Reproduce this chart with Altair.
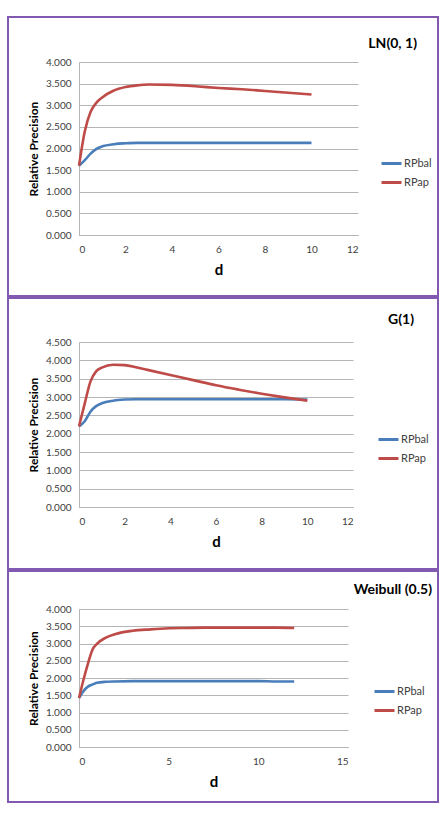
import altair as alt
import pandas as pd

# LN(0, 1)
LN_D = [0, 0.25, 0.5, 0.75, 1, 1.5, 2, 2.5, 3, 4, 5, 6, 7, 8, 9, 10]
LN_RPBAL = [1.60, 1.73, 1.88, 1.99, 2.05, 2.10, 2.12, 2.13, 2.13, 2.13, 2.13, 2.13, 2.13, 2.13, 2.13, 2.13]
LN_RPAP = [1.60, 2.40, 2.85, 3.06, 3.18, 3.34, 3.42, 3.46, 3.48, 3.47, 3.44, 3.40, 3.37, 3.33, 3.29, 3.25]

# G(1)
G_D = [0, 0.25, 0.5, 0.75, 1, 1.5, 2, 2.5, 3, 4, 5, 6, 7, 8, 9, 10]
G_RPBAL = [2.20, 2.34, 2.60, 2.75, 2.83, 2.90, 2.93, 2.94, 2.94, 2.94, 2.94, 2.94, 2.94, 2.94, 2.94, 2.93]
G_RPAP = [2.20, 2.82, 3.42, 3.70, 3.80, 3.88, 3.87, 3.81, 3.74, 3.60, 3.46, 3.32, 3.20, 3.09, 2.99, 2.90]

# Weibull (0.5)
W_D = [0, 0.25, 0.5, 0.75, 1, 1.5, 2, 3, 4, 5, 6, 7, 8, 9, 10, 11, 12]
W_RPBAL = [1.42, 1.62, 1.75, 1.81, 1.86, 1.89, 1.90, 1.91, 1.91, 1.91, 1.91, 1.91, 1.91, 1.91, 1.91, 1.90, 1.90]
W_RPAP = [1.42, 1.95, 2.42, 2.82, 2.99, 3.17, 3.27, 3.37, 3.41, 3.44, 3.45, 3.46, 3.46, 3.46, 3.46, 3.46, 3.45]

SERIES = ["RPbal", "RPap"]
COLORS = ["#4a7ebb", "#be4b48"]
PURPLE = "#8159b0"
FONT = "Lato"

Y_TICKS_4 = [0, 0.5, 1, 1.5, 2, 2.5, 3, 3.5, 4]
Y_TICKS_45 = [0, 0.5, 1, 1.5, 2, 2.5, 3, 3.5, 4, 4.5]
X_TICKS_12 = [0, 2, 4, 6, 8, 10, 12]
X_TICKS_15 = [0, 5, 10, 15]

# every panel frame starts 71px left of its plot area and ends 359px right of it
FRAME_LEFT, FRAME_RIGHT = -71, 359


def panel(d, bal, ap, title, title_x, title_y, y_ticks, x_ticks,
          w, h, frame_top, frame_bottom, leg_x, leg_y):
    df = pd.DataFrame({
        "d": list(d) + list(d),
        "value": list(bal) + list(ap),
        "series": [SERIES[0]] * len(d) + [SERIES[1]] * len(d),
    })
    one_row = alt.Data(values=[{}])
    frame = alt.Chart(one_row).mark_rect(
        fillOpacity=0, stroke=PURPLE, strokeWidth=2
    ).encode(
        x=alt.value(FRAME_LEFT), x2=alt.value(FRAME_RIGHT),
        y=alt.value(frame_top), y2=alt.value(frame_bottom),
    )
    heading = alt.Chart(one_row).mark_text(
        align="right", baseline="alphabetic", font=FONT, fontSize=14,
        fontWeight="bold", color="black"
    ).encode(x=alt.value(title_x), y=alt.value(title_y), text=alt.value(title))
    lines = alt.Chart(df).mark_line(strokeWidth=2.6, interpolate="monotone").encode(
        x=alt.X("d:Q",
                scale=alt.Scale(domain=[x_ticks[0], x_ticks[-1]], nice=False),
                axis=alt.Axis(values=x_ticks, title="d", grid=False, domain=True,
                              labelPadding=9, titlePadding=8, titleFontSize=15)),
        y=alt.Y("value:Q",
                scale=alt.Scale(domain=[y_ticks[0], y_ticks[-1]], nice=False),
                axis=alt.Axis(values=y_ticks, format=".3f", title="Relative Precision",
                              grid=True, domain=True, labelPadding=8,
                              titlePadding=5, titleFontSize=12)),
        color=alt.Color("series:N",
                        scale=alt.Scale(domain=SERIES, range=COLORS),
                        legend=alt.Legend(orient="none", legendX=leg_x, legendY=leg_y,
                                          title=None, symbolType="stroke",
                                          symbolStrokeWidth=3, symbolSize=400,
                                          labelFont=FONT, labelFontSize=11,
                                          labelColor="#404040", labelOffset=1,
                                          rowPadding=1, padding=0)),
        order=alt.Order("d:Q"),
    )
    return alt.layer(frame, heading, lines).properties(width=w, height=h)


p1 = panel(LN_D, LN_RPBAL, LN_RPAP, "LN(0, 1)", 338, -14, Y_TICKS_4, X_TICKS_12,
           279, 173, -45, 234, 301, 90)
p2 = panel(G_D, G_RPBAL, G_RPAP, "G(1)", 335, -18, Y_TICKS_45, X_TICKS_12,
           274, 165, -44, 227, 298, 86)
p3 = panel(W_D, W_RPBAL, W_RPAP, "Weibull (0.5)", 353, -15, Y_TICKS_4, X_TICKS_15,
           269, 138, -38, 193, 294, 71)

chart = alt.concat(p1, p2, p3, columns=1, spacing=0).resolve_scale(
    color="independent"
).resolve_legend(color="independent").properties(
    padding={"left": 7, "top": 16, "right": 0, "bottom": 0},
    background="white",
).configure_view(stroke=None).configure_axis(
    labelFont=FONT, labelFontSize=10, labelColor="#404040",
    titleFont=FONT, titleFontWeight="bold", titleColor="black",
    gridColor="#b5b5b5", domainColor="#b5b5b5", ticks=False,
)

chart.save("out.html", embed_options={"renderer": "svg", "actions": False})
